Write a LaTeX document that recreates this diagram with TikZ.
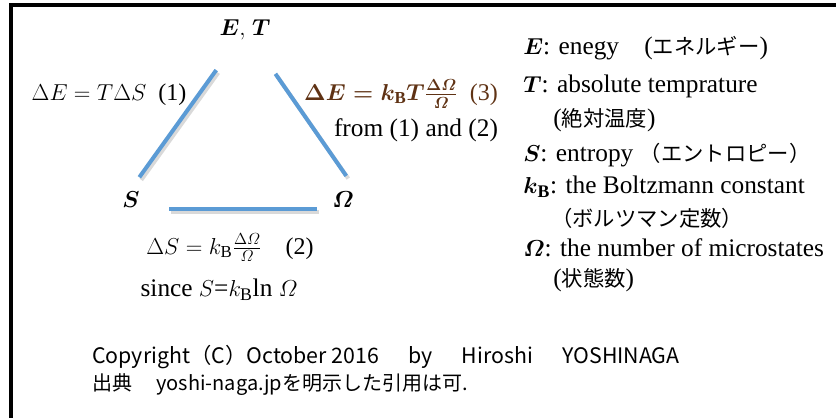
\documentclass[tikz,border=0pt]{standalone}
\usepackage{amsmath}
\usepackage{fontspec}
\setmainfont{Liberation Serif}
\newfontfamily\jp{Noto Sans CJK JP}
\usetikzlibrary{calc}

\definecolor{bondblue}{RGB}{91,155,213}
\definecolor{eqbrown}{RGB}{95,50,20}
\newcommand{\jtext}[1]{{\jp\fontsize{16}{18}\selectfont #1}}

\begin{document}
\begin{tikzpicture}[x=0.75pt,y=-0.75pt,
  vertex/.style={font=\fontsize{18}{22}\selectfont},
  bond/.style={bondblue, line width=3pt},
  bondshade/.style={black!15, line width=3pt, transform canvas={xshift=1.5pt, yshift=-2pt}},
  eq/.style={font=\fontsize{18}{21}\selectfont},
  remark/.style={font=\fontsize{19}{22}\selectfont},
  entry/.style={anchor=west, inner sep=0pt, font=\fontsize{19}{22}\selectfont},
  note/.style={anchor=west, inner sep=0pt, font=\jp\fontsize{15}{18}\selectfont}]

\useasboundingbox (0,0) rectangle (836,418);

% Rahmen
\draw[line width=2.5pt] (836,5) -- (11,5) -- (11,418);

% Ecken
\node[vertex] (ET) at (245,30) {$\boldsymbol{E}\mathbf{,}\;\boldsymbol{T}$};
\node[vertex] (S) at (131,200) {$\boldsymbol{S}$};
\node[vertex] (Om) at (343,200) {$\boldsymbol{\varOmega}$};

% Kanten (Schatten)
\draw[bondshade, shorten <=21pt, shorten >=37pt] ($(S.center)+(-8,0)$) -- (ET.center);
\draw[bondshade, shorten <=40pt, shorten >=22pt] (ET.center) -- ($(Om.center)+(20,0)$);
\draw[bondshade, shorten <=28.5pt, shorten >=19.5pt] ($(S.center)+(0,9)$) -- ($(Om.center)+(0,9)$);

% Kanten
\draw[bond, shorten <=21pt, shorten >=37pt] ($(S.center)+(-8,0)$) -- (ET.center);
\draw[bond, shorten <=40pt, shorten >=22pt] (ET.center) -- ($(Om.center)+(20,0)$);
\draw[bond, shorten <=28.5pt, shorten >=19.5pt] ($(S.center)+(0,9)$) -- ($(Om.center)+(0,9)$);

% Gleichungen
\node[eq] (eq1) at (109,95) {$\Delta E = T\Delta S$\ \ (1)};
\node[eq, text=eqbrown] (eq3) at (401,94) {$\boldsymbol{\Delta E = k_{\mathrm{B}}T\frac{\Delta\varOmega}{\varOmega}}$\ \ (3)};
\node[remark] (from) at (416,130) {from (1) and (2)};
\node[eq] (eq2) at (230,248) {$\Delta S = k_{\mathrm{B}}\frac{\Delta\varOmega}{\varOmega}$\quad(2)};
\node[remark] (since) at (219,290) {since $S$=$k_{\mathrm{B}}$ln $\varOmega$};

% Legende
\node[entry] (legE) at (523,48) {$\boldsymbol{E}$: enegy\quad(\jtext{エネルギー})};
\node[entry] (legT) at (523,86) {$\boldsymbol{T}$: absolute temprature};
\node[entry] (legTj) at (553,120) {(\jtext{絶対温度})};
\node[entry] (legS) at (523,155) {$\boldsymbol{S}$: entropy \jtext{（エントロピー）}};
\node[entry] (legk) at (523,187) {$\boldsymbol{k}_{\mathbf{B}}$: the Boltzmann constant};
\node[entry] (legkj) at (551,218) {\jtext{（ボルツマン定数）}};
\node[entry] (legO) at (523,248) {$\boldsymbol{\varOmega}$: the number of microstates};
\node[entry] (legOj) at (553,280) {(\jtext{状態数})};

% Quelle
\node[note, font=\jp\fontsize{16}{18}\selectfont] (copy) at (92,357) {Copyright（C）October 2016\hspace{22pt}by\hspace{22pt}Hiroshi\hspace{22pt}YOSHINAGA};
\node[note] (src) at (92,385) {出典\hspace{18pt}yoshi-naga.jpを明示した引用は可.};

\end{tikzpicture}
\end{document}
